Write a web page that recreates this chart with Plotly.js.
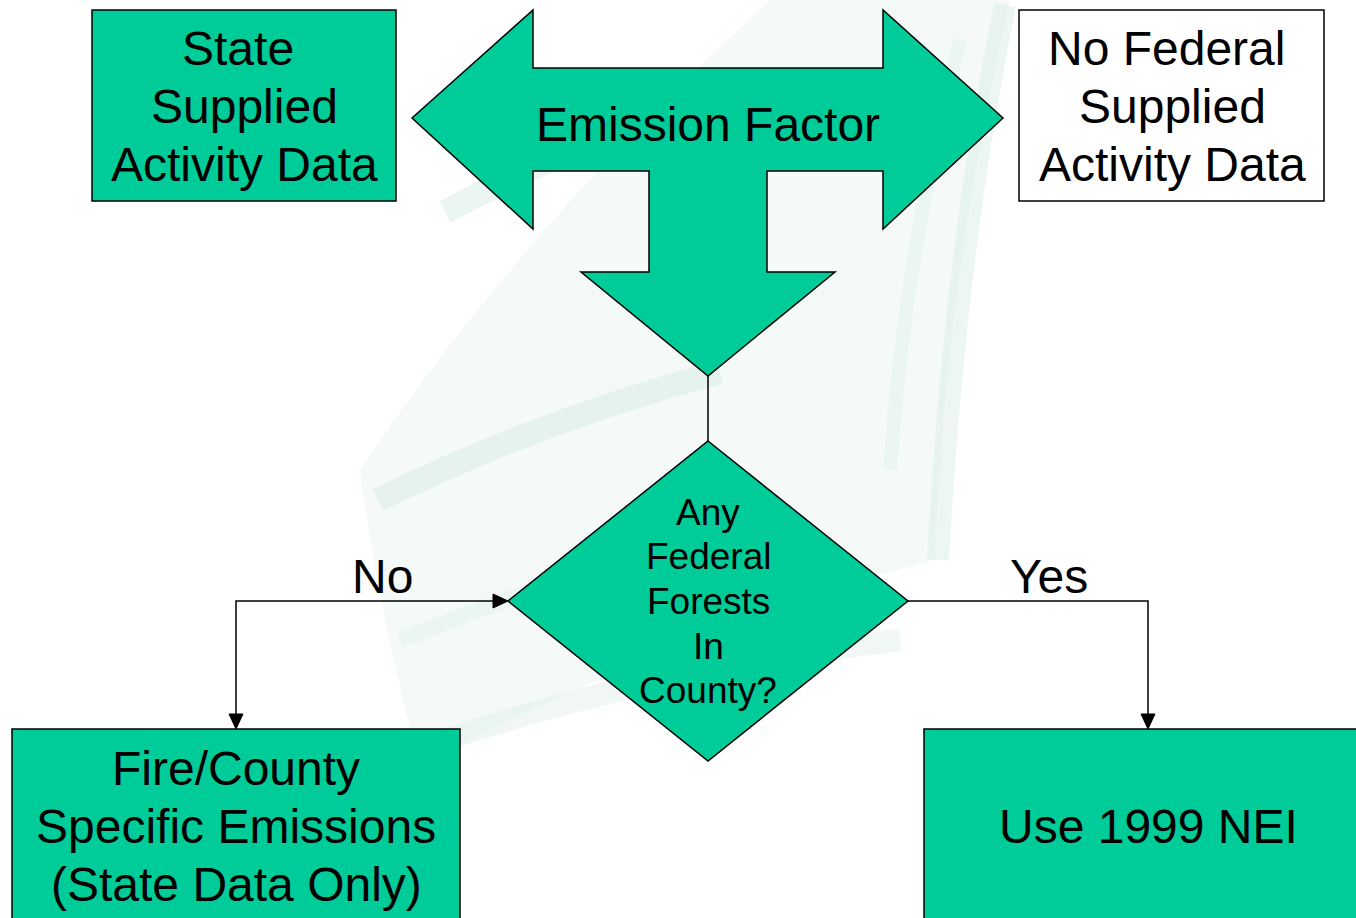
<!DOCTYPE html>
<html>
<head>
<meta charset="utf-8">
<script src="https://cdn.plot.ly/plotly-3.0.1.min.js"></script>
<style>html,body{margin:0;padding:0;background:#fff;}#chart{width:1356px;height:918px;}</style>
</head>
<body>
<div id="chart"></div>
<script>
// ---- Text content of the flowchart ----
const stateLabel = ["State", "Supplied", "Activity Data"];
const centerLabel = ["Emission Factor"];
const federalLabel = ["No Federal", "Supplied", "Activity Data"];
const decisionLabel = ["Any", "Federal", "Forests", "In", "County?"];
const branchLabels = ["No", "Yes"];
const noResultLabel = ["Fire/County", "Specific Emissions", "(State Data Only)"];
const yesResultLabel = ["Use 1999 NEI"];

// ---- Layout geometry (pixel space of the page) ----
const GREEN = "#00CC99";
const FONT = "Liberation Sans, Arial, Helvetica, sans-serif";
const shapes = [];
const annotations = [];

// faint watermark bands
const wm = [
  {p: "M 360,470 Q 520,230 770,0 L 1010,0 Q 945,280 935,560 Q 700,620 420,765 Q 380,620 360,470 Z", fill: "rgba(232,243,239,0.45)", w: 0},
  {p: "M 378,500 Q 540,420 720,372", w: 24, c: "rgba(210,232,224,0.45)"},
  {p: "M 445,212 Q 560,150 700,100", w: 24, c: "rgba(210,232,224,0.45)"},
  {p: "M 430,745 Q 650,670 900,640", w: 22, c: "rgba(218,236,230,0.4)"},
  {p: "M 1005,5 Q 955,250 938,560", w: 22, c: "rgba(210,232,224,0.4)"},
  {p: "M 960,40 Q 905,250 890,470", w: 14, c: "rgba(218,236,230,0.35)"},
  {p: "M 400,640 Q 600,560 780,520", w: 16, c: "rgba(218,236,230,0.35)"}
];
wm.forEach(s => {
  if (s.w === 0) {
    shapes.push({type: "path", path: s.p, xref: "x", yref: "y", fillcolor: s.fill, line: {width: 0}, layer: "below"});
  } else {
    shapes.push({type: "path", path: s.p, xref: "x", yref: "y", line: {color: s.c, width: s.w}, layer: "below"});
  }
});

function rect(x0, y0, x1, y1, fill) {
  shapes.push({type: "rect", xref: "x", yref: "y", x0, y0, x1, y1, fillcolor: fill, line: {color: "#000", width: 1.5}});
}
function poly(pts, fill) {
  const d = "M " + pts.map(p => p[0] + "," + p[1]).join(" L ") + " Z";
  shapes.push({type: "path", xref: "x", yref: "y", path: d, fillcolor: fill, line: {color: "#000", width: 1.5}});
}
function line(pts) {
  const d = "M " + pts.map(p => p[0] + "," + p[1]).join(" L ");
  shapes.push({type: "path", xref: "x", yref: "y", path: d, line: {color: "#000", width: 1.5}});
}
function head(x, y, dir) {
  const L = 15, W = 7;
  let pts;
  if (dir === "down") pts = [[x - W, y - L], [x + W, y - L], [x, y]];
  else pts = [[x - L, y - W], [x - L, y + W], [x, y]];
  const d = "M " + pts.map(p => p[0] + "," + p[1]).join(" L ") + " Z";
  shapes.push({type: "path", xref: "x", yref: "y", path: d, fillcolor: "#000", line: {color: "#000", width: 1}});
}
function lines(arr, cx, ys, size) {
  arr.forEach((t, i) => annotations.push({
    text: t, x: Array.isArray(cx) ? cx[i] : cx, y: ys[i], xref: "x", yref: "y", showarrow: false,
    xanchor: "center", yanchor: "middle", font: {family: FONT, size: size, color: "#000"}
  }));
}

// boxes
rect(92, 10, 396, 201, GREEN);
rect(1019, 10, 1324, 201, "#FFFFFF");
rect(12, 729, 460, 940, GREEN);
rect(924, 729, 1380, 940, GREEN);

// three-way arrow
poly([[412,118],[533,10],[533,68],[883,68],[883,10],[1003,118],[883,229],[883,171],
      [767,171],[767,272],[835,272],[708,376],[581,272],[649,272],[649,171],[533,171],[533,229]], GREEN);

// connector to decision
line([[708,376],[708,441]]);
// decision diamond
poly([[708,441],[908,601],[708,761],[508,601]], GREEN);

// No branch
line([[236,727],[236,601],[494,601]]);
head(508, 601, "right");
head(236, 729, "down");
// Yes branch
line([[908,601],[1148,601],[1148,715]]);
head(1148, 729, "down");

// texts
lines(stateLabel, [238, 244, 244], [48, 106, 164], 48);
lines(centerLabel, 708, [124], 48);
lines(federalLabel, [1166, 1172, 1172], [48, 106, 164], 48);
lines(decisionLabel, 708, [512, 556, 601, 646, 690], 37);
lines([branchLabels[0]], 382, [576], 48);
lines([branchLabels[1]], 1049, [576], 48);
lines(noResultLabel, 236, [768, 826, 884], 48);
lines(yesResultLabel, 1148, [826], 48);

const layout = {
  width: 1356, height: 918,
  margin: {l: 0, r: 0, t: 0, b: 0, pad: 0},
  paper_bgcolor: "#FFFFFF", plot_bgcolor: "#FFFFFF",
  xaxis: {range: [0, 1356], visible: false, showgrid: false, zeroline: false, fixedrange: true},
  yaxis: {range: [918, 0], visible: false, showgrid: false, zeroline: false, fixedrange: true},
  showlegend: false,
  shapes: shapes,
  annotations: annotations
};
Plotly.newPlot("chart", [{x: [], y: [], type: "scatter", hoverinfo: "skip"}], layout, {displayModeBar: false, staticPlot: true});
</script>
</body>
</html>
